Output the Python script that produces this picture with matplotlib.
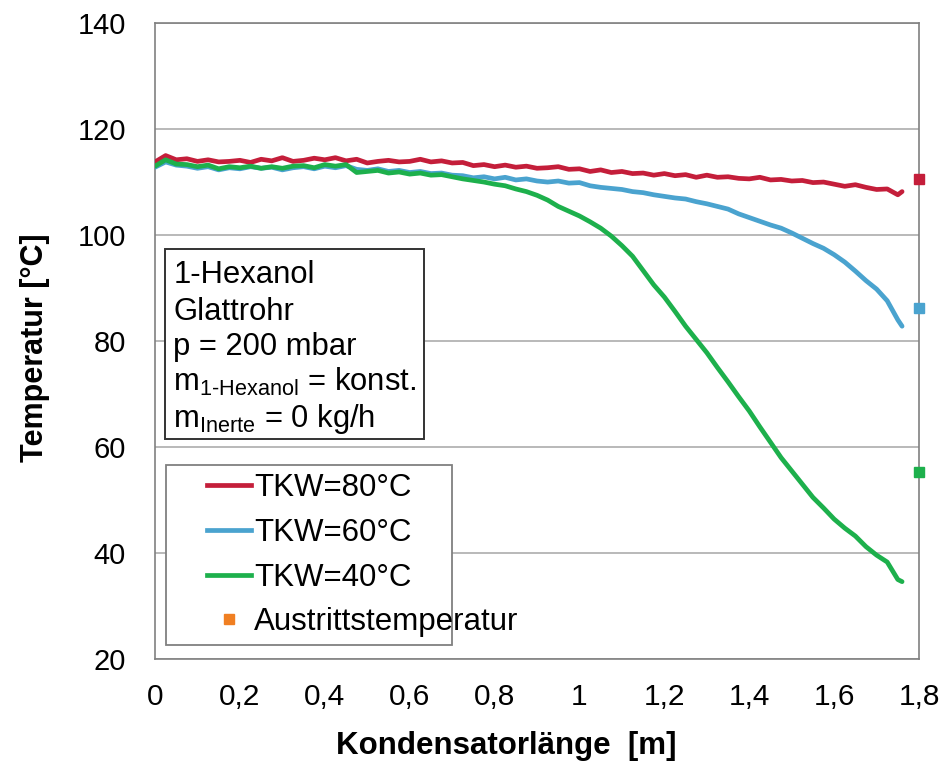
import matplotlib
matplotlib.use("Agg")
import matplotlib.pyplot as plt
from matplotlib.lines import Line2D
from matplotlib.patches import Rectangle

plt.rcParams['font.family'] = ['Liberation Sans', 'DejaVu Sans']
plt.rcParams['mathtext.fontset'] = 'custom'
plt.rcParams['mathtext.rm'] = 'Liberation Sans'
plt.rcParams['mathtext.it'] = 'Liberation Sans'

# Position entlang des Kondensators [m]
laenge = [0.0, 0.025, 0.05, 0.075, 0.1, 0.125, 0.15, 0.175, 0.2, 0.225,
          0.25, 0.275, 0.3, 0.325, 0.35, 0.375, 0.4, 0.425, 0.45, 0.475,
          0.5, 0.525, 0.55, 0.575, 0.6, 0.625, 0.65, 0.675, 0.7, 0.725,
          0.75, 0.775, 0.8, 0.825, 0.85, 0.875, 0.9, 0.925, 0.95, 0.975,
          1.0, 1.025, 1.05, 1.075, 1.1, 1.125, 1.15, 1.175, 1.2, 1.225,
          1.25, 1.275, 1.3, 1.325, 1.35, 1.375, 1.4, 1.425, 1.45, 1.475,
          1.5, 1.525, 1.55, 1.575, 1.6, 1.625, 1.65, 1.675, 1.7, 1.725,
          1.75, 1.76]

# Temperaturprofile bei verschiedenen Kuehlwassertemperaturen [°C]
t_tkw80 = [113.8, 115.0, 114.2, 114.4, 113.9, 114.2, 113.8, 113.9, 114.1, 113.7,
           114.3, 114.0, 114.6, 113.9, 114.1, 114.5, 114.2, 114.6, 114.0, 114.3,
           113.6, 113.9, 114.1, 113.8, 113.9, 114.3, 113.8, 114.0, 113.6, 113.7,
           113.1, 113.3, 112.9, 113.2, 112.8, 113.0, 112.6, 112.7, 112.9, 112.4,
           112.5, 112.0, 112.3, 111.8, 112.0, 111.6, 111.7, 111.3, 111.6, 111.2,
           111.4, 110.9, 111.3, 110.9, 111.0, 110.7, 110.6, 110.9, 110.4, 110.5,
           110.2, 110.3, 109.9, 110.0, 109.6, 109.2, 109.5, 109.0, 108.6, 108.7,
           107.6, 108.2]
t_tkw60 = [112.8, 113.8, 113.2, 113.0, 112.6, 112.9, 112.3, 112.7, 112.5, 112.9,
           112.6, 112.8, 112.3, 112.7, 112.9, 112.5, 113.0, 112.7, 113.1, 112.4,
           112.2, 112.5, 112.0, 112.2, 111.8, 112.0, 111.6, 111.7, 111.3, 111.2,
           110.8, 111.0, 110.6, 110.9, 110.4, 110.6, 110.2, 110.0, 110.2, 109.8,
           109.9, 109.3, 109.0, 108.8, 108.6, 108.2, 108.0, 107.6, 107.3, 107.0,
           106.8, 106.3, 105.9, 105.4, 104.9, 104.0, 103.3, 102.6, 101.9, 101.3,
           100.4, 99.4, 98.4, 97.5, 96.3, 94.9, 93.2, 91.4, 89.8, 87.6,
           84.0, 82.8]
t_tkw40 = [113.0, 114.2, 113.4, 113.3, 112.9, 113.2, 112.5, 112.9, 112.7, 113.0,
           112.6, 112.9, 112.6, 113.0, 113.1, 112.7, 113.3, 113.0, 113.3, 111.8,
           112.0, 112.2, 111.7, 111.9, 111.5, 111.7, 111.3, 111.4, 111.0, 110.6,
           110.3, 110.0, 109.6, 109.3, 108.7, 108.2, 107.5, 106.6, 105.4, 104.5,
           103.6, 102.5, 101.3, 99.8, 98.0, 96.0, 93.3, 90.6, 88.3, 85.6,
           82.8, 80.3, 77.8, 75.0, 72.3, 69.5, 66.8, 63.8, 60.9, 58.0,
           55.5, 53.0, 50.5, 48.5, 46.4, 44.7, 43.2, 41.2, 39.6, 38.3,
           35.0, 34.6]

# Austrittstemperaturen am Kondensatorende
x_austritt = 1.8
t_austritt = [110.6, 86.2, 55.2]

labels = ['TKW=80°C', 'TKW=60°C', 'TKW=40°C']
farben = ['#C41E3A', '#4AA3CF', '#1DB04C']
farbe_austritt = '#F07F22'

xticks = [0, 0.2, 0.4, 0.6, 0.8, 1.0, 1.2, 1.4, 1.6, 1.8]
xticklabels = ['0', '0,2', '0,4', '0,6', '0,8', '1', '1,2', '1,4', '1,6', '1,8']
yticks = [20, 40, 60, 80, 100, 120, 140]

fig = plt.figure(figsize=(9.43, 7.69), dpi=100)
ax = fig.add_axes([0.1644, 0.143, 0.8102, 0.827])

for t, farbe, lab in zip([t_tkw80, t_tkw60, t_tkw40], farben, labels):
    ax.plot(laenge, t, color=farbe, lw=3.4, label=lab, solid_capstyle='round', zorder=3)

for t, farbe in zip(t_austritt, farben):
    ax.plot(x_austritt, t, marker='s', ms=7.5, color=farbe, ls='none', clip_on=False, zorder=4)

ax.set_xlim(0, 1.8)
ax.set_ylim(20, 140)
ax.set_xticks(xticks)
ax.set_xticklabels(xticklabels)
ax.set_yticks(yticks)
ax.tick_params(axis='x', length=0, pad=17, labelsize=21.5)
ax.tick_params(axis='y', length=0, pad=21, labelsize=21)
ax.grid(axis='y', color='#A6A6A6', lw=1.1)
ax.set_axisbelow(True)
for s in ax.spines.values():
    s.set_color('#808080')
    s.set_linewidth(1.2)

ax.set_xlabel('Kondensatorlänge  [m]', fontsize=22.5, fontweight='bold')
ax.set_ylabel('Temperatur [°C]', fontsize=22, fontweight='bold')
ax.xaxis.set_label_coords(0.46, -0.113)
ax.yaxis.set_label_coords(-0.138, 0.49)

# Versuchsbedingungen
ax.add_patch(Rectangle((0.013, 0.346), 0.339, 0.299, transform=ax.transAxes,
                       fill=True, facecolor='white', edgecolor='#333333', lw=1.4, zorder=5))
zeilen = ['1-Hexanol', 'Glattrohr', 'p = 200 mbar',
          r'm$_{\mathregular{1\text{-}Hexanol}}$ = konst.',
          r'm$_{\mathregular{Inerte}}$ = 0 kg/h']
baselines = [283, 320, 355, 391, 427]
for z, yb in zip(zeilen, baselines):
    ax.text(0.024, (659 - yb) / 636, z, transform=ax.transAxes, fontsize=22.3,
            va='baseline', ha='left', zorder=6)

# Legende mit eigenem Rahmen
handles = [Line2D([], [], color=f, lw=3.4) for f in farben]
handles.append(Line2D([], [], marker='s', ms=6.5, color=farbe_austritt, ls='none'))
leg = ax.legend(handles, labels + ['Austrittstemperatur'], loc='upper left',
                bbox_to_anchor=(0.068, 0.292), frameon=False, fontsize=22.5,
                handlelength=1.4, handletextpad=0.1, labelspacing=0.47,
                borderpad=0, borderaxespad=0)
leg.set_zorder(6)
ax.add_patch(Rectangle((0.0144, 0.022), 0.3746, 0.283, transform=ax.transAxes,
                       fill=True, facecolor='white', edgecolor='#808080', lw=1.3, zorder=5))

fig.savefig('out.png', dpi=100)
